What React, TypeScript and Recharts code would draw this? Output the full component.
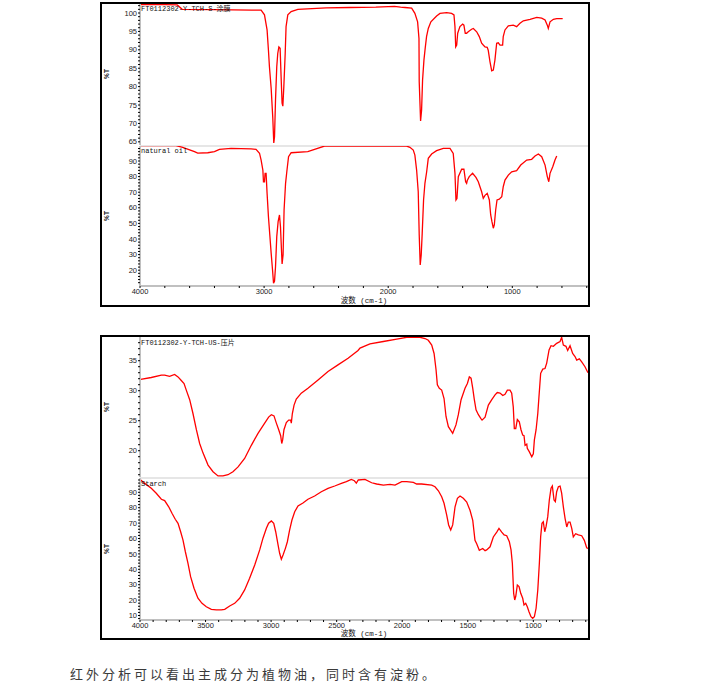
import React from 'react';
import { LineChart, Line, XAxis, YAxis } from 'recharts';

// ---------- data: [wavenumber cm-1, %T] ----------
const coatedFilmSpectrum: [number, number][] = [
  [4000,102.3],[3800,102.3],[3700,102.2],[3660,101.0],[3400,100.9],[3100,100.8],[3024,100.8],[2997,99.5],[2976,95.4],[2965,89.9],[2957,85.4],[2943,79.5],[2930,71.5],[2922,64.7],[2916,66.4],[2908,76.4],[2898,85.4],[2890,89],[2881,90.8],[2871,90.4],[2863,82.7],[2855,75.5],[2849,74.7],[2841,80],[2830,89],[2823,96.3],[2809,99.5],[2782,100.4],[2728,101],[2500,101.4],[2309,101.5],[2100,101.6],[1950,101.8],[1900,101.6],[1865,101.5],[1811,101.3],[1785,99.9],[1763,97.6],[1752,93.1],[1750,81.3],[1739,70.7],[1731,73.6],[1723,81.8],[1712,87.2],[1702,90.4],[1691,93.6],[1677,95.8],[1656,97.6],[1610,99.2],[1583,99.9],[1529,100.1],[1489,99.9],[1470,99.5],[1462,96.3],[1456,90.8],[1448,91.3],[1440,94.5],[1422,96.3],[1400,97.0],[1390,96.7],[1379,94.5],[1368,94.5],[1355,94.9],[1328,95.6],[1314,95.8],[1287,94.9],[1266,93.6],[1247,91.8],[1234,91.3],[1220,90.8],[1202,90.7],[1194,89.9],[1180,86.8],[1166,84.3],[1153,84.5],[1140,87.2],[1126,91.8],[1113,91.9],[1099,91.3],[1078,91.3],[1073,93.6],[1059,95.4],[1032,96.5],[992,96.7],[965,96.3],[938,97.2],[911,97.9],[857,98.3],[803,98.8],[763,98.6],[736,98.1],[718,96.7],[710,95.8],[696,97.6],[669,98.3],[642,98.5],[594,98.5],
];

const naturalOilSpectrum: [number, number][] = [
  [4000,99.8],[3710,99.8],[3656,98.8],[3561,96.0],[3535,95.0],[3454,95.3],[3400,96],[3360,97.5],[3266,98.1],[3105,97.8],[3065,97.5],[3037,95],[3024,90.6],[3010,84.2],[3005,76.7],[2997,76.7],[2992,82.1],[2984,82.1],[2976,69.3],[2965,54.3],[2954,42.6],[2943,30.8],[2932,20.1],[2924,11.6],[2916,13],[2908,22.2],[2898,41.5],[2887,51.1],[2876,55.4],[2868,47.9],[2860,33],[2855,24],[2847,30],[2839,58.6],[2827,75.7],[2817,83.1],[2803,92.8],[2782,95.3],[2648,96],[2513,99.6],[2309,99.6],[1852,99.6],[1825,98.8],[1798,97],[1785,93.8],[1771,84.2],[1758,70.3],[1750,42.6],[1742,23.3],[1734,29.7],[1726,43.6],[1715,65],[1704,75.7],[1690,83.1],[1677,91.7],[1650,94.5],[1610,96.6],[1556,98.1],[1502,98.1],[1476,94.9],[1462,82.1],[1454,65],[1446,66],[1435,80],[1408,84.7],[1390,84.7],[1376,76.7],[1368,75.7],[1363,77.5],[1347,80],[1320,82.1],[1293,79.5],[1274,76.7],[1247,70.3],[1234,66.1],[1220,68],[1202,69.3],[1185,65],[1174,55.4],[1164,51.1],[1153,46.9],[1145,49],[1134,58.6],[1123,65],[1105,65.5],[1085,67.1],[1073,73.5],[1059,77.8],[1032,81],[1005,83.1],[965,83.8],[932,87.4],[884,90.6],[844,91.1],[817,93.2],[790,94.5],[763,92.8],[736,87.4],[718,80],[706,76.7],[696,82.1],[674,86.3],[656,90.6],[642,93.2],
];

const pressedTabletSpectrum: [number, number][] = [
  [3995,31.9],[3914,32.2],[3837,32.6],[3812,32.6],[3774,32.4],[3736,32.7],[3710,32.3],[3685,31.7],[3664,31.2],[3647,30.1],[3621,28.5],[3596,26.2],[3570,23.5],[3545,21.2],[3519,19.6],[3481,17.6],[3443,16.5],[3405,15.8],[3367,15.8],[3329,16.0],[3291,16.5],[3252,17.3],[3202,18.7],[3151,20.9],[3100,22.9],[3049,24.6],[3019,25.6],[2998,26],[2978,25.8],[2960,24.6],[2942,23.5],[2927,22.5],[2919,21.2],[2912,21.8],[2902,23.5],[2884,24.7],[2866,25.1],[2851,25.1],[2846,24.6],[2838,26.2],[2825,27.6],[2808,28.6],[2770,29.6],[2719,30.4],[2642,31.8],[2566,33.2],[2490,34.3],[2413,35.4],[2337,36.7],[2322,37.1],[2246,37.8],[2144,38.2],[2042,38.6],[1966,38.9],[1864,38.9],[1826,38.7],[1801,38.4],[1775,37.6],[1757,36.2],[1742,33.5],[1732,31],[1717,30.4],[1699,30.1],[1681,28.7],[1666,25.7],[1648,24],[1615,22.9],[1590,24.3],[1572,26],[1551,28.5],[1521,30.4],[1503,31.2],[1488,32.3],[1475,32.1],[1462,30.4],[1450,28.5],[1437,26.8],[1419,26],[1401,25.4],[1391,25.1],[1368,25.6],[1343,27.6],[1317,28.5],[1292,29.3],[1275,29.7],[1254,29.6],[1233,29.2],[1216,29.4],[1198,30.1],[1178,30.1],[1165,29.6],[1153,27.3],[1145,23.7],[1134,23.7],[1122,25.2],[1107,24.8],[1094,23.5],[1081,22.6],[1071,22.5],[1063,20.9],[1050,21.1],[1046,20.4],[1030,19.8],[1012,19],[1000,19.5],[992,21.8],[979,23.5],[966,26.2],[957,29],[944,32.9],[928,33.6],[911,33.7],[898,34.6],[880,36.8],[865,37.5],[847,37.4],[822,37.9],[796,38.2],[784,38.9],[771,37.6],[751,37.4],[738,36.7],[720,37.5],[700,36.2],[682,35.7],[669,35.1],[649,35.3],[631,34.8],[606,34],[588,33.2],[583,33.0],
];

const starchSpectrum: [number, number][] = [
  [3995,98],[3964,95.8],[3914,92.6],[3876,89.4],[3837,85.5],[3812,84.6],[3781,80.6],[3756,76.4],[3731,72.5],[3710,69.9],[3690,64.4],[3672,59],[3654,51.4],[3634,43.9],[3614,35.2],[3588,27.7],[3558,21.2],[3527,17.9],[3494,15.7],[3456,14],[3418,13.6],[3380,13.6],[3354,14],[3316,16.2],[3278,17.9],[3240,21.2],[3202,26.6],[3164,34.2],[3125,42.8],[3087,52.6],[3062,60.2],[3036,66.6],[3019,69.9],[2998,71.4],[2980,69.9],[2965,64.4],[2947,55.8],[2935,50.4],[2922,46.5],[2909,49.3],[2891,53.6],[2876,57.9],[2859,65.5],[2841,72],[2820,77.4],[2795,81.1],[2757,83.1],[2719,85.5],[2668,87.6],[2617,90.4],[2566,92.6],[2515,94.1],[2464,95.8],[2426,96.9],[2388,98.4],[2365,97.5],[2350,96],[2335,98],[2284,98.4],[2233,96.2],[2195,95.4],[2144,94.7],[2093,95.2],[2055,94.7],[2004,96.9],[1966,96.9],[1915,96.4],[1890,95.4],[1852,95.4],[1775,94.7],[1750,93.6],[1724,91],[1699,87.1],[1681,82.9],[1661,75.3],[1646,68.8],[1630,65.5],[1615,68.8],[1597,80.6],[1579,86.1],[1559,87.6],[1534,86.1],[1508,83.7],[1483,78.3],[1462,71.8],[1445,58.8],[1432,56.6],[1412,52.3],[1386,53.5],[1368,52.1],[1356,52.6],[1330,54.6],[1305,61],[1279,64.2],[1262,66.6],[1241,64.2],[1223,62.3],[1203,61.8],[1183,57.9],[1170,52.6],[1160,43.9],[1150,24.4],[1142,20.1],[1134,22.5],[1122,29.8],[1109,28.8],[1096,24.4],[1081,21.2],[1071,16.8],[1058,17.9],[1046,15.7],[1033,12.5],[1018,9.2],[1005,8.2],[992,9.2],[979,14.7],[966,26.6],[954,43.9],[944,61.2],[934,69.9],[924,70.9],[913,64.4],[903,67.7],[890,74.2],[878,85],[865,92.6],[855,94.1],[842,85],[832,83.9],[822,90.4],[809,93.6],[796,94],[784,89.4],[771,80.5],[758,73.1],[745,67.5],[733,70.7],[720,70.7],[707,66.6],[695,61],[677,63.1],[657,62.3],[631,61.8],[611,58.8],[593,54],[583,53.5],
];

// ---------- tick values ----------
const panel1XTicks: number[] = [400,600,800,1000,1200,1400,1600,1800,2000,2200,2400,2600,2800,3000,3200,3400,3600,3800,4000];
const panel1XLabels: number[] = [1000, 2000, 3000, 4000];
const panel2XTicks: number[] = [600,700,800,900,1000,1100,1200,1300,1400,1500,1600,1700,1800,1900,2000,2100,2200,2300,2400,2500,2600,2700,2800,2900,3000,3100,3200,3300,3400,3500,3600,3700,3800,3900,4000];
const panel2XLabels: number[] = [1000, 1500, 2000, 2500, 3000, 3500, 4000];

const coatedYTicks: number[] = [65,66,67,68,69,70,71,72,73,74,75,76,77,78,79,80,81,82,83,84,85,86,87,88,89,90,91,92,93,94,95,96,97,98,99,100,101,102];
const coatedYLabels: number[] = [65, 70, 75, 80, 85, 90, 95, 100];
const oilYTicks: number[] = [12,14,16,18,20,22,24,26,28,30,32,34,36,38,40,42,44,46,48,50,52,54,56,58,60,62,64,66,68,70,72,74,76,78,80,82,84,86,88,90,92,94,96,98];
const oilYLabels: number[] = [20, 30, 40, 50, 60, 70, 80, 90];
const tabletYTicks: number[] = [16,17,18,19,20,21,22,23,24,25,26,27,28,29,30,31,32,33,34,35,36,37,38];
const tabletYLabels: number[] = [20, 25, 30, 35];
const starchYTicks: number[] = [8,10,12,14,16,18,20,22,24,26,28,30,32,34,36,38,40,42,44,46,48,50,52,54,56,58,60,62,64,66,68,70,72,74,76,78,80,82,84,86,88,90,92,94,96,98];
const starchYLabels: number[] = [10, 20, 30, 40, 50, 60, 70, 80, 90];

const titles = {
  coated: 'FT0112302-Y-TCH-S-涂膜',
  oil: 'natural oil',
  tablet: 'FT0112302-Y-TCH-US-压片',
  starch: 'Starch',
};
const xTitle = '波数 (cm-1)';
const yTitle = '%T';
const caption = '红外分析可以看出主成分为植物油，同时含有淀粉。';

const toRows = (s: [number, number][]) => s.map(([w, t]) => ({ w, t }));

const tickStyle = { fontSize: 7.5, fill: '#222', fontFamily: '"Liberation Sans", Arial, sans-serif' };

type SubProps = {
  spectrum: [number, number][];
  top: number;
  height: number;
  marginTop: number;
  xDomain: [number, number];
  xTicks: number[];
  xLabels: number[];
  showX: boolean;
  yDomain: [number, number];
  yTicks: number[];
  yLabels: number[];
};

function SubPlot(p: SubProps) {
  return (
    <div style={{ position: 'absolute', left: 100, top: p.top, width: 490, height: p.height }}>
      <LineChart
        width={490}
        height={p.height}
        data={toRows(p.spectrum)}
        margin={{ top: p.marginTop, right: 2, bottom: 0, left: 0 }}
      >
        <XAxis
          type="number"
          dataKey="w"
          domain={p.xDomain}
          reversed
          allowDataOverflow
          hide={!p.showX}
          height={20}
          ticks={p.xTicks}
          interval={0}
          tickFormatter={(v: number) => (p.xLabels.includes(v) ? String(v) : '')}
          tick={tickStyle}
          tickSize={2}
          tickMargin={1}
          axisLine={{ stroke: '#c0c0c0', strokeWidth: 2 }}
          tickLine={{ stroke: '#000' }}
        />
        <YAxis
          type="number"
          domain={p.yDomain}
          allowDataOverflow
          width={40}
          ticks={p.yTicks}
          interval={0}
          tickFormatter={(v: number) => (p.yLabels.includes(v) ? String(v) : '')}
          tick={tickStyle}
          tickSize={2}
          tickMargin={1}
          axisLine={{ stroke: '#c0c0c0', strokeWidth: 2 }}
          tickLine={{ stroke: '#000' }}
        />
        <Line
          type="linear"
          dataKey="t"
          stroke="#ff0000"
          strokeWidth={1.3}
          dot={false}
          isAnimationActive={false}
        />
      </LineChart>
    </div>
  );
}

const monoFont = '"Liberation Mono", "DejaVu Sans Mono", "Noto Sans CJK SC", monospace';

function SmallText({ x, y, text }: { x: number; y: number; text: string }) {
  return (
    <div style={{ position: 'absolute', left: x, top: y - 5, height: 10, lineHeight: '10px', fontSize: 7, fontFamily: monoFont, color: '#111', whiteSpace: 'nowrap' }}>
      {text}
    </div>
  );
}

function YTitle({ y }: { y: number }) {
  return (
    <div style={{ position: 'absolute', left: 96.5, top: y - 5, width: 20, height: 10, lineHeight: '10px', textAlign: 'center', fontSize: 6.5, fontWeight: 'bold', fontFamily: '"Liberation Sans", sans-serif', color: '#111', transform: 'rotate(-90deg)' }}>
      {yTitle}
    </div>
  );
}

function XTitle({ y }: { y: number }) {
  return (
    <div style={{ position: 'absolute', left: 314, top: y - 5, width: 100, height: 10, lineHeight: '10px', textAlign: 'center', fontSize: 7.5, fontFamily: monoFont, color: '#111', whiteSpace: 'nowrap' }}>
      {xTitle}
    </div>
  );
}

function Separator({ y }: { y: number }) {
  return <div style={{ position: 'absolute', left: 140, top: y, width: 448, height: 2, background: '#e6e6e6' }} />;
}

function Box({ top }: { top: number }) {
  return <div style={{ position: 'absolute', left: 100, top, width: 490, height: 305, border: '2px solid #000', boxSizing: 'border-box', pointerEvents: 'none' }} />;
}

export default function App() {
  return (
    <div style={{ position: 'absolute', left: 0, top: 0, width: 721, height: 694, background: '#fff', overflow: 'hidden' }}>
      {/* Panel 1 */}
      <Separator y={145} />
      <SubPlot spectrum={coatedFilmSpectrum} top={0} height={145} marginTop={3}
        xDomain={[390, 4000]} xTicks={panel1XTicks} xLabels={panel1XLabels} showX={false}
        yDomain={[64.14, 102.72]} yTicks={coatedYTicks} yLabels={coatedYLabels} />
      <SubPlot spectrum={naturalOilSpectrum} top={146} height={160} marginTop={0}
        xDomain={[390, 4000]} xTicks={panel1XTicks} xLabels={panel1XLabels} showX={true}
        yDomain={[9.87, 99.62]} yTicks={oilYTicks} yLabels={oilYLabels} />
      <SmallText x={141} y={9} text={titles.coated} />
      <SmallText x={141} y={151} text={titles.oil} />
      <YTitle y={74} />
      <YTitle y={216} />
      <XTitle y={301} />
      <Box top={2} />

      {/* Panel 2 */}
      <Separator y={476.5} />
      <SubPlot spectrum={pressedTabletSpectrum} top={337} height={140} marginTop={0}
        xDomain={[583, 4000]} xTicks={panel2XTicks} xLabels={panel2XLabels} showX={false}
        yDomain={[15.62, 38.95]} yTicks={tabletYTicks} yLabels={tabletYLabels} />
      <SubPlot spectrum={starchSpectrum} top={478} height={162} marginTop={0}
        xDomain={[583, 4000]} xTicks={panel2XTicks} xLabels={panel2XLabels} showX={true}
        yDomain={[7.08, 99.29]} yTicks={starchYTicks} yLabels={starchYLabels} />
      <SmallText x={141} y={342.5} text={titles.tablet} />
      <SmallText x={141} y={484} text={titles.starch} />
      <YTitle y={407} />
      <YTitle y={549} />
      <XTitle y={634} />
      <Box top={335} />

      {/* Caption */}
      <div style={{ position: 'absolute', left: 70, top: 666, height: 16, lineHeight: '16px', fontSize: 13, letterSpacing: 3, fontFamily: '"Noto Sans CJK SC", sans-serif', color: '#3a3a3a', whiteSpace: 'nowrap' }}>
        {caption}
      </div>
    </div>
  );
}
